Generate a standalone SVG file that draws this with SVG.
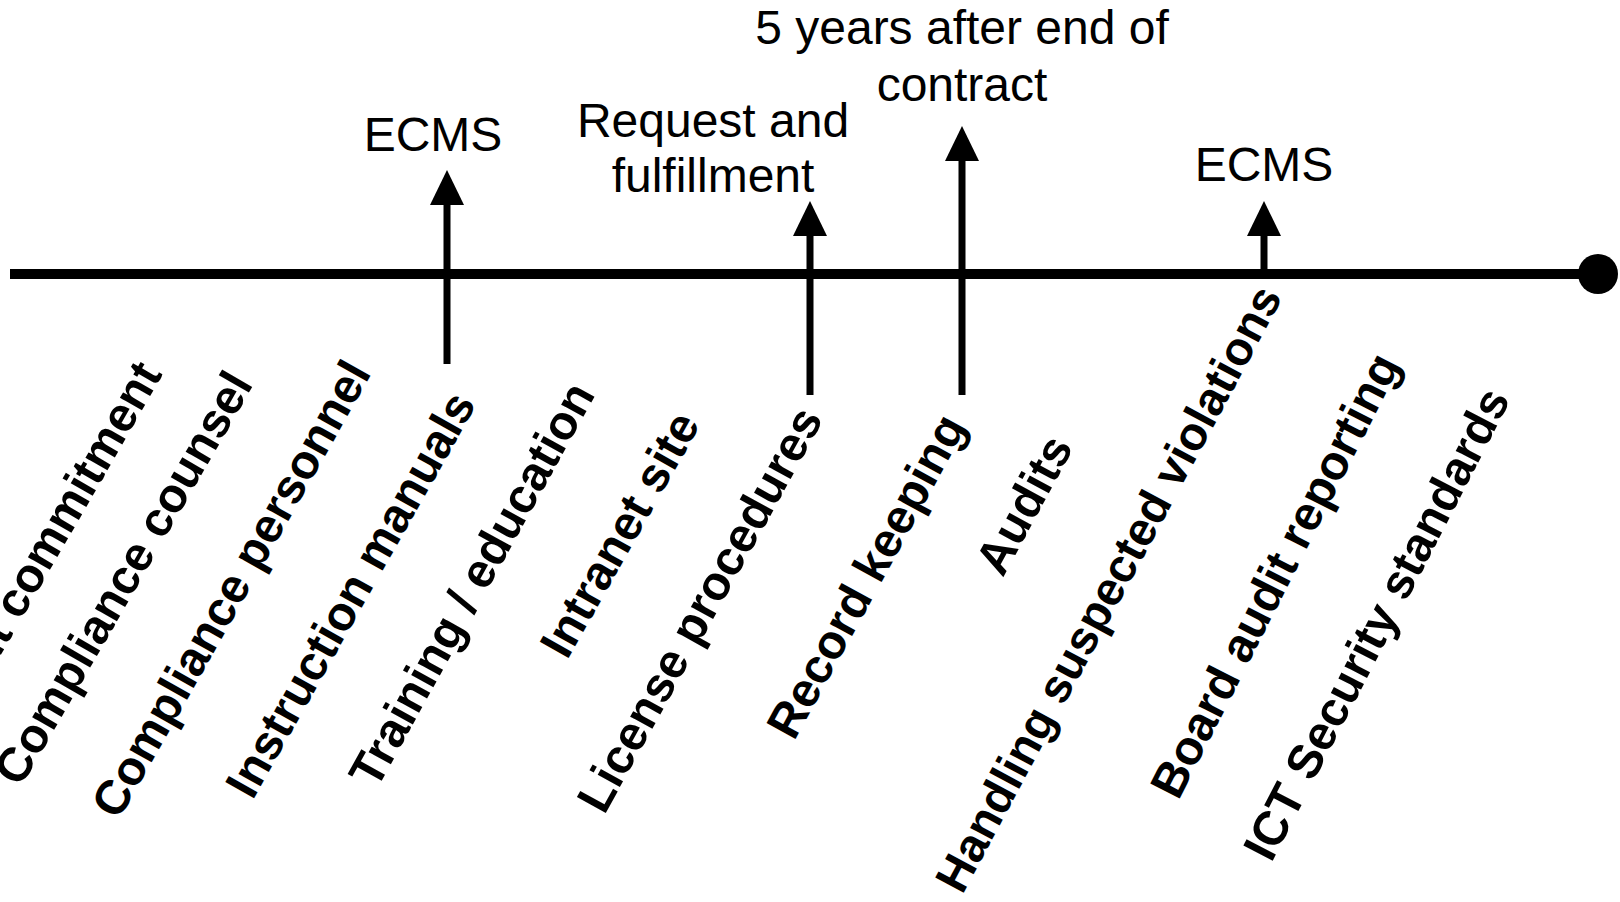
<svg xmlns="http://www.w3.org/2000/svg" width="1620" height="902" viewBox="0 0 1620 902">
<style>
.top{font-family:"Liberation Sans",Arial,sans-serif;font-size:48px;fill:#000;text-anchor:middle}
.lab{font-family:"Liberation Sans",Arial,sans-serif;font-size:48px;font-weight:bold;fill:#000;text-anchor:end}
.shaft{stroke:#000;stroke-width:7;fill:none}
</style>
<defs>
<marker id="ah" markerUnits="userSpaceOnUse" markerWidth="36" markerHeight="36" viewBox="0 0 36 36" refX="0" refY="18" orient="auto">
<path d="M0,1 L35,18 L0,35 Z" fill="#000"/>
</marker>
</defs>
<rect width="1620" height="902" fill="#fff"/>
<g id="timeline">
<line x1="10" y1="274" x2="1596" y2="274" stroke="#000" stroke-width="10"/>
<circle cx="1598" cy="274" r="20" fill="#000"/>
</g>
<g id="connectors">
<line class="shaft" x1="447" y1="364" x2="447" y2="205" marker-end="url(#ah)"/>
<line class="shaft" x1="810" y1="395" x2="810" y2="236" marker-end="url(#ah)"/>
<line class="shaft" x1="962" y1="395" x2="962" y2="161" marker-end="url(#ah)"/>
<line class="shaft" x1="1264" y1="274" x2="1264" y2="236" marker-end="url(#ah)"/>
</g>
<g id="top-ecms1"><text class="top" x="433" y="151">ECMS</text></g>
<g id="top-request"><text class="top" x="713" y="137">Request and</text><text class="top" x="713" y="192">fulfillment</text></g>
<g id="top-5years"><text class="top" x="962" y="44">5 years after end of</text><text class="top" x="962" y="101">contract</text></g>
<g id="top-ecms2"><text class="top" x="1264" y="181">ECMS</text></g>
<g id="l1"><text class="lab" transform="translate(163,374) rotate(-60)">Management commitment</text></g>
<g id="l2"><text class="lab" transform="translate(254,384) rotate(-60)">Compliance counsel</text></g>
<g id="l3"><text class="lab" transform="translate(372,373) rotate(-60.5)">Compliance personnel</text></g>
<g id="l4"><text class="lab" transform="translate(477,404) rotate(-60.5)">Instruction manuals</text></g>
<g id="l5"><text class="lab" transform="translate(596,394) rotate(-61)">Training / education</text></g>
<g id="l6"><text class="lab" transform="translate(701,424) rotate(-60.5)">Intranet site</text></g>
<g id="l7"><text class="lab" transform="translate(824,419) rotate(-61)">License procedures</text></g>
<g id="l8"><text class="lab" transform="translate(967,426) rotate(-61.3)">Record keeping</text></g>
<g id="l9"><text class="lab" transform="translate(1074,447) rotate(-61.5)">Audits</text></g>
<g id="l10"><text class="lab" style="font-size:47px" transform="translate(1283,297) rotate(-61.8)">Handling suspected violations</text></g>
<g id="l11"><text class="lab" transform="translate(1401,364) rotate(-63)">Board audit reporting</text></g>
<g id="l12"><text class="lab" transform="translate(1511,399) rotate(-62.7)">ICT Security standards</text></g>
</svg>
